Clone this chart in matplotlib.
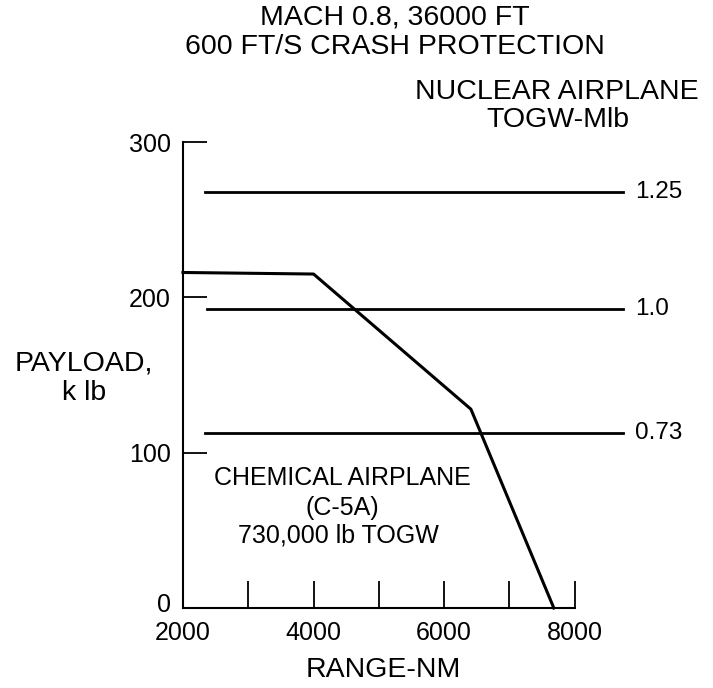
import matplotlib
matplotlib.use('Agg')
import matplotlib.pyplot as plt
import matplotlib.transforms as mtransforms

plt.rcParams['font.family'] = ['Liberation Sans', 'DejaVu Sans']

# 화학 비행기 (C-5A) 페이로드-거리 곡선
chem_range = [2000, 4000, 6410, 7680]
chem_payload = [216, 215, 128, 0]

# 원자력 비행기 TOGW 별 페이로드 (수평선)
nuc_labels = ['1.25', '1.0', '0.73']
nuc_payload = [268, 192.5, 112.7]
nuc_start = [2340, 2370, 2340]
nuc_end = 8740

xticks = [2000, 3000, 4000, 5000, 6000, 7000, 8000]
xticklabels = ['2000', '', '4000', '', '6000', '', '8000']
yticks = [0, 100, 200, 300]

fig = plt.figure(figsize=(7.13, 6.88), dpi=100)
ax = fig.add_axes([183/713, 80/688, 457/713, 466/688])
ax.set_xlim(2000, 9000)
ax.set_ylim(0, 300)

ax.plot(chem_range, chem_payload, color='black', lw=2.2, clip_on=False)
for lab, p, s in zip(nuc_labels, nuc_payload, nuc_start):
    ax.plot([s, nuc_end], [p, p], color='black', lw=2.0, clip_on=False)
    ax.text(nuc_end + 180, p, lab, fontsize=17.5, va='center', ha='left')

for side in ['top', 'right']:
    ax.spines[side].set_visible(False)
ax.spines['left'].set_bounds(0, 300)
ax.spines['bottom'].set_bounds(2000, 8000)
for side in ['left', 'bottom']:
    ax.spines[side].set_linewidth(1.5)

ax.set_xticks(xticks)
ax.set_xticklabels(xticklabels)
ax.set_yticks(yticks)
ax.tick_params(axis='x', direction='in', length=19.5, width=1.3, pad=9, labelsize=18)
ax.tick_params(axis='y', direction='in', length=17.5, width=1.3, pad=9, labelsize=18)

# y축 '0' 라벨을 살짝 위로 (x축 2000 라벨과 겹침 방지)
zero_lab = ax.get_yticklabels()[0]
zero_lab.set_transform(zero_lab.get_transform() +
                       mtransforms.ScaledTranslation(0, 4/72, fig.dpi_scale_trans))

fig.text(342/713, 1 - 478/688, 'CHEMICAL AIRPLANE', fontsize=18, ha='center', va='center')
fig.text(342/713, 1 - 508/688, '(C-5A)', fontsize=18, ha='center', va='center')
fig.text(338/713, 1 - 536/688, '730,000 lb TOGW', fontsize=18, ha='center', va='center')

fig.text(395/713, 1 - 18/688, 'MACH 0.8, 36000 FT', fontsize=20.5, ha='center', va='center')
fig.text(395/713, 1 - 47/688, '600 FT/S CRASH PROTECTION', fontsize=20.5, ha='center', va='center')
fig.text(557/713, 1 - 92/688, 'NUCLEAR AIRPLANE', fontsize=20.5, ha='center', va='center')
fig.text(558/713, 1 - 120/688, 'TOGW-Mlb', fontsize=20.5, ha='center', va='center')

fig.text(84/713, 1 - 363/688, 'PAYLOAD,', fontsize=20.5, ha='center', va='center')
fig.text(84/713, 1 - 393/688, 'k lb', fontsize=20.5, ha='center', va='center')
fig.text(383/713, 1 - 670/688, 'RANGE-NM', fontsize=20.5, ha='center', va='center')

fig.savefig('out.png', dpi=100)
